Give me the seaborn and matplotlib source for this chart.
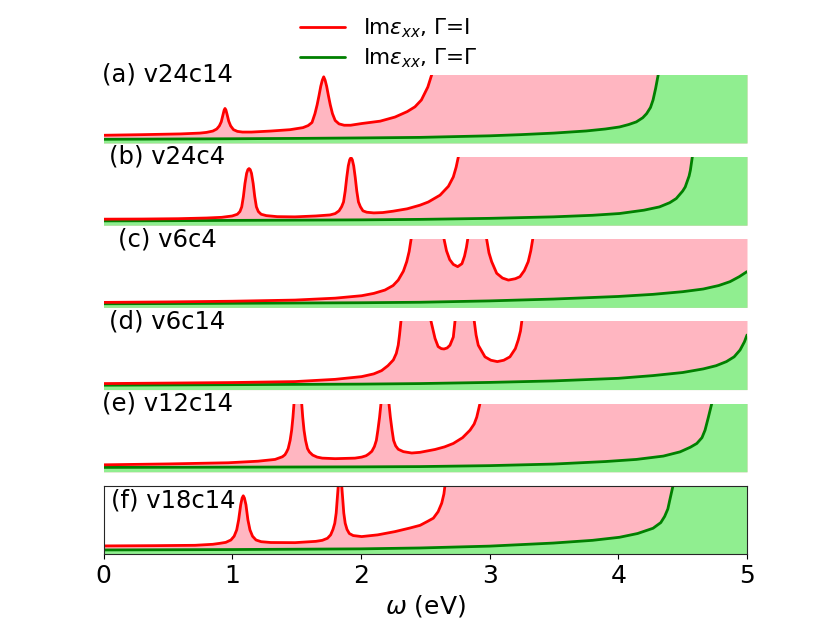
import numpy as np
import matplotlib
matplotlib.use("Agg")
import matplotlib.pyplot as plt
import seaborn as sns

# panel labels (top to bottom)
labels = ["(a) v24c14", "(b) v24c4", "(c) v6c4", "(d) v6c14", "(e) v12c14", "(f) v18c14"]
label_x = [-0.01, 0.04, 0.11, 0.04, -0.01, 0.06]

# Im eps_xx, Gamma=I  (red)  -- omega (eV) and value (panel units, top of panel = 10)
a_red_w = [0, 0.3, 0.6, 0.75, 0.8, 0.85, 0.88, 0.9, 0.915, 0.928, 0.937, 0.944, 0.951, 0.96, 0.973,
           0.988, 1.01, 1.04, 1.08, 1.15, 1.3, 1.45, 1.55, 1.59, 1.62, 1.643, 1.66, 1.674, 1.688, 1.7,
           1.711, 1.722, 1.734, 1.748, 1.762, 1.779, 1.8, 1.83, 1.87, 1.92, 2.006, 2.15, 2.265,
           2.36, 2.42, 2.47, 2.52, 2.55, 2.6, 5.0]
a_red_v = [1.13, 1.22, 1.33, 1.45, 1.55, 1.75, 2.05, 2.5, 3.1, 4.1, 4.8, 5.06, 4.85, 4.2, 3.2,
           2.5, 1.95, 1.7, 1.6, 1.6, 1.75, 1.95, 2.25, 2.55, 3.0, 4.3, 5.6, 6.9, 8.3, 9.2,
           9.7, 9.2, 8.3, 6.9, 5.6, 4.3, 3.3, 2.8, 2.6, 2.6, 2.85, 3.2, 3.8,
           4.6, 5.3, 6.3, 8.2, 10.0, 13.0, 13.0]
b_red_w = [0, 0.3, 0.58, 0.8, 0.918, 1.0, 1.04, 1.06, 1.074, 1.087, 1.099, 1.112, 1.122, 1.131, 1.14,
           1.15, 1.163, 1.175, 1.188, 1.203, 1.225, 1.265, 1.35, 1.488, 1.65, 1.76, 1.8, 1.83, 1.85,
           1.865, 1.878, 1.89, 1.902, 1.913, 1.923, 1.933, 1.944, 1.956, 1.968, 1.981, 1.996, 2.016,
           2.045, 2.1, 2.17, 2.25, 2.36, 2.459, 2.524, 2.615, 2.68, 2.718, 2.74, 2.757, 2.8, 5.0]
b_red_v = [0.88, 0.9, 0.95, 1.05, 1.15, 1.35, 1.6, 2.0, 2.68, 4.2, 6.1, 7.6, 8.15, 8.3, 8.15,
           7.6, 6.1, 4.2, 2.68, 2.0, 1.6, 1.4, 1.25, 1.22, 1.35, 1.5, 1.7, 2.1, 2.7,
           3.4, 5.0, 7.0, 8.7, 9.6, 9.9, 9.6, 8.7, 7.0, 5.0, 3.4, 2.7, 2.1,
           1.9, 1.8, 1.85, 2.05, 2.4, 2.93, 3.4, 4.4, 5.7, 7.07, 8.5, 10.0, 13.0, 13.0]
c_red_w = [0, 0.5, 1.0, 1.488, 1.8, 2.006, 2.1, 2.187, 2.25, 2.29, 2.33, 2.356, 2.375, 2.39, 2.42,
           2.62, 2.646, 2.665, 2.69, 2.718, 2.752, 2.785, 2.805, 2.82, 2.83, 2.86,
           2.95, 2.977, 2.995, 3.016, 3.055, 3.1, 3.146, 3.2, 3.236, 3.27, 3.3, 3.32, 3.335, 3.36, 5.0]
c_red_v = [0.73, 0.8, 0.9, 1.07, 1.35, 1.71, 2.05, 2.54, 3.2, 4.0, 5.3, 6.7, 8.2, 10.0, 14.0,
           14.0, 10.0, 8.3, 7.0, 6.3, 5.97, 6.4, 7.5, 8.8, 10.0, 14.0,
           14.0, 10.0, 8.0, 6.7, 5.0, 4.3, 4.0, 4.2, 4.5, 5.4, 6.7, 8.3, 10.0, 14.0, 14.0]
d_red_w = [0, 0.5, 1.0, 1.488, 1.8, 2.006, 2.1, 2.161, 2.21, 2.252, 2.275, 2.29, 2.3, 2.311, 2.33,
           2.52, 2.545, 2.576, 2.6, 2.625, 2.646, 2.67, 2.692, 2.718, 2.731, 2.75,
           2.86, 2.881, 2.895, 2.912, 2.964, 3.01, 3.06, 3.11, 3.158, 3.2, 3.223, 3.24, 3.25, 3.27, 5.0]
d_red_v = [0.88, 0.95, 1.03, 1.17, 1.5, 1.9, 2.3, 2.78, 3.5, 4.34, 5.3, 6.5, 8.0, 10.0, 14.0,
           14.0, 10.0, 7.5, 6.3, 6.0, 5.95, 6.1, 6.5, 7.7, 10.0, 14.0,
           14.0, 10.0, 8.0, 6.5, 4.8, 4.3, 4.1, 4.3, 4.8, 6.0, 7.3, 8.6, 10.0, 14.0, 14.0]
e_red_w = [0, 0.5, 0.97, 1.2, 1.333, 1.39, 1.41, 1.423, 1.435, 1.45, 1.462, 1.472, 1.48, 1.49, 1.53,
           1.54, 1.548, 1.558, 1.57, 1.585, 1.6, 1.625, 1.66, 1.7, 1.8, 1.954, 2.006, 2.04, 2.06, 2.085,
           2.105, 2.12, 2.132, 2.145, 2.156, 2.165, 2.21, 2.218, 2.229, 2.242, 2.254, 2.27, 2.29, 2.33,
           2.395, 2.459, 2.576, 2.65, 2.718, 2.79, 2.848, 2.88, 2.9, 2.925, 2.95, 5.0]
e_red_v = [1.02, 1.15, 1.32, 1.55, 1.81, 2.2, 2.5, 2.92, 3.4, 4.6, 6.1, 8.0, 10.0, 14.0, 14.0,
           10.0, 8.0, 6.1, 4.6, 3.4, 2.9, 2.45, 2.15, 2.0, 1.92, 2.0, 2.15, 2.35, 2.6, 3.0,
           3.7, 4.6, 6.1, 8.0, 10.0, 14.0, 14.0, 10.0, 8.0, 6.1, 4.6, 3.8, 3.3, 2.95,
           2.75, 2.85, 3.27, 3.65, 4.15, 5.0, 6.1, 7.0, 8.0, 10.0, 14.0, 14.0]
f_red_w = [0, 0.4, 0.711, 0.85, 0.9, 0.95, 0.99, 1.015, 1.035, 1.05, 1.066, 1.077, 1.086, 1.095, 1.107,
           1.122, 1.138, 1.158, 1.185, 1.225, 1.3, 1.488, 1.65, 1.7, 1.74, 1.765, 1.783, 1.797, 1.808,
           1.818, 1.824, 1.83, 1.845, 1.851, 1.857, 1.867, 1.878, 1.892, 1.91, 1.94, 2.006,
           2.13, 2.265, 2.38, 2.46, 2.52, 2.563, 2.6, 2.628, 2.645, 2.653, 2.68, 5.0]
f_red_v = [1.18, 1.22, 1.27, 1.42, 1.55, 1.7, 2.05, 2.6, 3.53, 5.0, 7.2, 8.2, 8.53, 8.2, 7.2,
           5.0, 3.53, 2.6, 2.05, 1.8, 1.68, 1.66, 1.85, 2.0, 2.3, 2.8, 3.6, 4.5, 6.0,
           8.5, 10.0, 14.0, 14.0, 10.0, 8.5, 6.0, 4.5, 3.6, 3.0, 2.7, 2.55,
           2.8, 3.28, 3.8, 4.2, 4.8, 5.25, 6.2, 7.45, 8.8, 10.0, 14.0, 14.0]

# Im eps_xx, Gamma=Gamma  (green)
a_green_w = [0, 0.5, 1.0, 1.5, 2.0, 2.46, 3.0, 3.24, 3.5, 3.75, 3.9, 4.01, 4.08, 4.14, 4.19, 4.22, 4.25,
             4.27, 4.29, 4.31, 4.33, 5.0]
a_green_v = [0.54, 0.58, 0.62, 0.67, 0.74, 0.82, 1.05, 1.22, 1.45, 1.76, 2.05, 2.35, 2.7, 3.09, 3.7, 4.3, 5.2,
             6.3, 8.0, 10.0, 13.0, 13.0]
b_green_w = [0, 0.5, 1.0, 1.5, 2.0, 2.46, 3.0, 3.495, 3.8, 4.01, 4.2, 4.32, 4.4, 4.45, 4.5, 4.52, 4.55,
             4.56, 4.575, 4.6, 5.0]
b_green_v = [0.63, 0.66, 0.7, 0.74, 0.78, 0.85, 1.0, 1.22, 1.45, 1.71, 2.2, 2.68, 3.3, 3.9, 5.0, 5.6, 7.2,
             8.05, 10.0, 13.0, 13.0]
c_green_w = [0, 0.5, 1.0, 1.5, 2.0, 2.46, 3.0, 3.495, 4.0, 4.27, 4.5, 4.66, 4.78, 4.868, 4.94, 5.0]
c_green_v = [0.53, 0.56, 0.6, 0.64, 0.68, 0.75, 0.95, 1.22, 1.6, 1.91, 2.3, 2.69, 3.2, 3.77, 4.5, 5.24]
d_green_w = [0, 0.5, 1.0, 1.5, 2.0, 2.46, 3.0, 3.495, 4.0, 4.27, 4.5, 4.66, 4.76, 4.84, 4.9, 4.946, 4.98, 5.0]
d_green_v = [0.64, 0.68, 0.72, 0.76, 0.8, 0.88, 1.05, 1.27, 1.65, 2.05, 2.5, 3.03, 3.5, 4.1, 4.8, 5.8, 7.0, 8.0]
e_green_w = [0, 0.5, 1.0, 1.5, 2.0, 2.46, 3.0, 3.495, 3.9, 4.14, 4.35, 4.48, 4.56, 4.61, 4.65, 4.674, 4.7,
             4.726, 4.75, 5.0]
e_green_v = [0.64, 0.66, 0.68, 0.7, 0.72, 0.76, 0.9, 1.13, 1.5, 1.81, 2.3, 2.92, 3.6, 4.15, 5.0, 6.1, 8.0,
             10.0, 13.0, 13.0]
f_green_w = [0, 0.5, 1.0, 1.5, 2.0, 2.46, 3.0, 3.495, 3.8, 4.01, 4.15, 4.27, 4.33, 4.36, 4.385, 4.4, 4.425,
             4.45, 5.0]
f_green_v = [0.59, 0.62, 0.65, 0.7, 0.75, 0.88, 1.15, 1.6, 2.0, 2.45, 3.0, 3.77, 4.6, 5.5, 6.6, 7.9, 10.0,
             13.0, 13.0]

red_w = [a_red_w, b_red_w, c_red_w, d_red_w, e_red_w, f_red_w]
red_v = [a_red_v, b_red_v, c_red_v, d_red_v, e_red_v, f_red_v]
green_w = [a_green_w, b_green_w, c_green_w, d_green_w, e_green_w, f_green_w]
green_v = [a_green_v, b_green_v, c_green_v, d_green_v, e_green_v, f_green_v]

sns.set_style("ticks")
plt.rcParams["font.family"] = ["DejaVu Sans"]
plt.rcParams["text.color"] = "black"
plt.rcParams["axes.labelcolor"] = "black"
plt.rcParams["xtick.color"] = "black"

fig = plt.figure(figsize=(8.3, 6.23), dpi=100)
gs = fig.add_gridspec(6, 1, left=0.1247, right=0.9, top=0.880, bottom=0.1108, hspace=0.205)

for i in range(6):
    ax = fig.add_subplot(gs[i])
    ax.fill_between(red_w[i], 0, red_v[i], color="lightpink", lw=0)
    ax.fill_between(green_w[i], 0, green_v[i], color="lightgreen", lw=0)
    sns.lineplot(x=green_w[i], y=green_v[i], ax=ax, color="green", linewidth=2,
                 label=r"Im$\varepsilon_{xx}$, $\Gamma$=$\Gamma$")
    sns.lineplot(x=red_w[i], y=red_v[i], ax=ax, color="red", linewidth=2,
                 label=r"Im$\varepsilon_{xx}$, $\Gamma$=I")
    ax.set_xlim(0, 5)
    ax.set_ylim(0, 10)
    ax.get_legend().remove()
    if i < 5:
        ax.axis("off")
        ax.text(label_x[i], 10, labels[i], fontsize=17.5, ha="left", va="center")
    else:
        ax.text(label_x[i], 7.8, labels[i], fontsize=17.5, ha="left", va="center")
        ax.set_yticks([])
        ax.set_xticks(range(6))
        ax.tick_params(axis="x", labelsize=18)
        ax.set_xlabel(r"$\omega$ (eV)", fontsize=18)
        ax.set_ylabel("")
    if i == 0:
        h, l = ax.get_legend_handles_labels()

fig.legend(h[::-1], l[::-1], loc="center", bbox_to_anchor=(0.468, 0.931), frameon=False,
           fontsize=15.5, labelspacing=0.3, handlelength=2.1)

plt.savefig("out.png", dpi=100)
